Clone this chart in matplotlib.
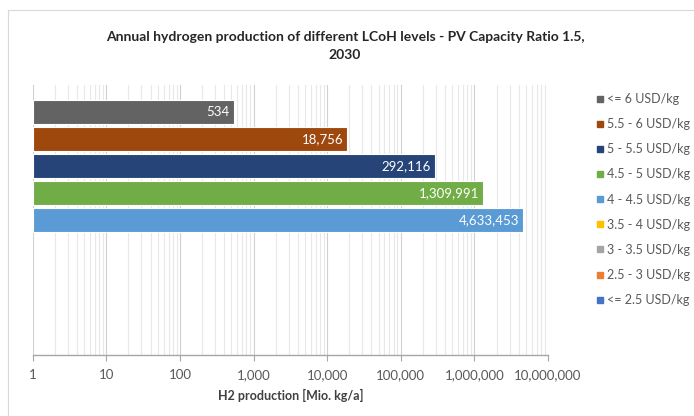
import matplotlib.pyplot as plt
from matplotlib.lines import Line2D
from matplotlib.patches import Rectangle
from matplotlib.ticker import FixedLocator, FuncFormatter, NullFormatter

plt.rcParams['font.family'] = ['Lato', 'DejaVu Sans']

levels = ['<= 6 USD/kg', '5.5 - 6 USD/kg', '5 - 5.5 USD/kg', '4.5 - 5 USD/kg',
          '4 - 4.5 USD/kg', '3.5 - 4 USD/kg', '3 - 3.5 USD/kg', '2.5 - 3 USD/kg',
          '<= 2.5 USD/kg']
production = [534, 18756, 292116, 1309991, 4633453, None, None, None, None]
colors = ['#636363', '#9e480e', '#264478', '#70ad47', '#5b9bd5',
          '#ffc000', '#a5a5a5', '#ed7d31', '#4472c4']

fig = plt.figure(figsize=(6.94, 4.16), dpi=100)
W, H = 694, 416
ax = fig.add_axes([32.7 / W, 1 - 355 / H, (548 - 32.7) / W, (355 - 85) / H])

# outer chart frame, cut off at right and bottom
fig.patches.append(Rectangle((8 / W, -0.1), 1.2, 1 - 10 / H + 0.1,
                             transform=fig.transFigure, fill=False,
                             edgecolor='#d9d9d9', linewidth=0.8))

for i, (val, col) in enumerate(zip(production, colors)):
    if val is None:
        continue
    ax.barh(i, val, height=0.9, left=1, color=col, edgecolor='white',
            linewidth=0.8, zorder=3)
    ax.text(val / 1.13, i, f'{val:,}', ha='right', va='center',
            color='white', fontsize=9.5, zorder=4)

ax.set_xscale('log')
ax.set_xlim(1, 1e7)
ax.set_ylim(9.0, -1.0)
ax.set_yticks([])

ax.xaxis.set_major_locator(FixedLocator([10 ** k for k in range(8)]))
ax.xaxis.set_minor_locator(FixedLocator([m * 10 ** k for k in range(7) for m in range(2, 10)]))
ax.xaxis.set_major_formatter(FuncFormatter(lambda v, p: f'{int(round(v)):,}'))
ax.xaxis.set_minor_formatter(NullFormatter())
ax.grid(which='major', axis='x', color='#d0d0d0', linewidth=0.8, zorder=0)
ax.grid(which='minor', axis='x', color='#e8e8e8', linewidth=0.8, zorder=0)
ax.tick_params(axis='x', which='major', length=4, color='#a6a6a6',
               labelcolor='#595959', labelsize=9.5, pad=6)
ax.tick_params(axis='x', which='minor', length=0)

for s in ['top', 'right', 'left']:
    ax.spines[s].set_visible(False)
ax.spines['bottom'].set_color('#a6a6a6')
ax.spines['bottom'].set_linewidth(1.0)

ax.set_xlabel('H2 production [Mio. kg/a]', fontsize=9, fontweight='bold',
              color='#404040', labelpad=6)

fig.text(345 / W, 1 - 46 / H,
         'Annual hydrogen production of different LCoH levels - PV Capacity Ratio 1.5,\n2030',
         ha='center', va='center', fontsize=10, fontweight='bold',
         color='#262626', linespacing=1.6)

handles = [Line2D([], [], marker='s', linestyle='none', markersize=4.5,
                  markerfacecolor=c, markeredgecolor=c) for c in colors]
fig.legend(handles, levels, loc='upper left', bbox_to_anchor=(596 / W, 1 - 93 / H),
           frameon=False, fontsize=9, labelcolor='#595959', handlelength=0.6,
           handletextpad=0.3, labelspacing=1.05, borderaxespad=0, borderpad=0)

fig.savefig('out.png', dpi=100)
